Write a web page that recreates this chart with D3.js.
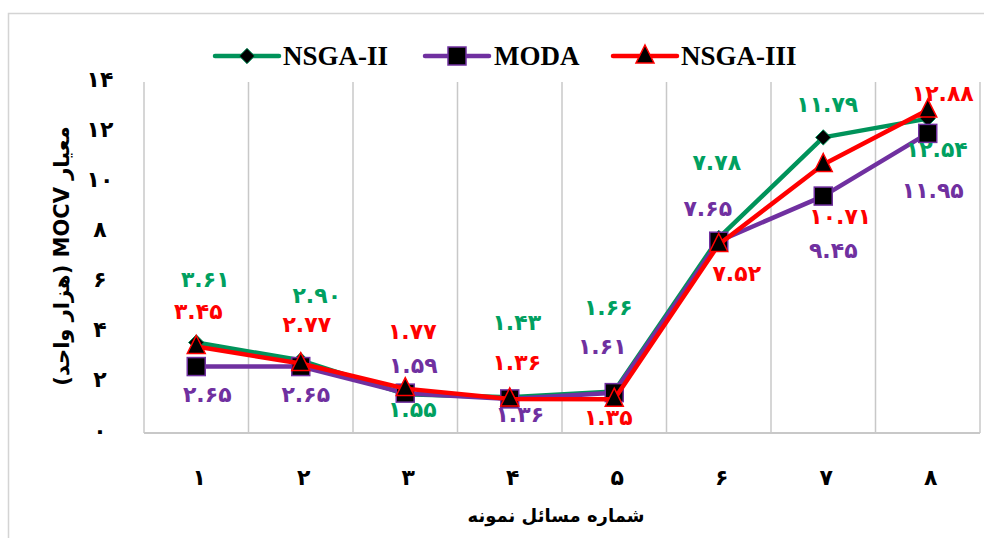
<!DOCTYPE html>
<html>
<head>
<meta charset="utf-8">
<script src="https://cdn.jsdelivr.net/npm/d3@7"></script>
<style>
  body { margin: 0; background: #fff; }
  svg { display: block; }
</style>
</head>
<body>
<svg id="chart" width="984" height="538"></svg>
<script>
// داده‌ها
const categories = [1, 2, 3, 4, 5, 6, 7, 8];
const nsga2 = [3.61, 2.90, 1.55, 1.43, 1.66, 7.78, 11.79, 12.54];
const moda = [2.65, 2.65, 1.59, 1.36, 1.61, 7.65, 9.45, 11.95];
const nsga3 = [3.45, 2.77, 1.77, 1.36, 1.35, 7.52, 10.71, 12.88];
const yTicks = [0, 2, 4, 6, 8, 10, 12, 14];
const seriesNames = ['NSGA-II', 'MODA', 'NSGA-III'];
const xTitle = 'شماره مسائل نمونه';
const yTitle = 'معیار MOCV (هزار واحد)';

// جای برچسب‌ها نسبت به نقطه (فقط چیدمان)
const labelOffsets = {
  'NSGA-II': [[9, -63], [16, -65], [7, 15], [7, -75], [-6, -84], [-2, -75], [4, -33], [9, 31]],
  'MODA': [[11, 28], [5, 28], [8, -28], [10, 16], [-12, -46], [-11, -33], [10, 54], [5, 57]],
  'NSGA-III': [[2, -35], [6, -39], [7, -57], [7, -36], [-6, 18], [18, 29], [17, 52], [15, -17]]
};

const series = [
  { name: 'NSGA-II', values: nsga2, line: '#00935a', text: '#00a060', marker: 'diamond' },
  { name: 'MODA', values: moda, line: '#7030a0', text: '#7030a0', marker: 'square' },
  { name: 'NSGA-III', values: nsga3, line: '#ff0000', text: '#ff0000', marker: 'triangle' }
];

const toFa = s => String(s).replace(/[0-9]/g, d => String.fromCharCode(0x06F0 + +d));
const fmt = d3.format('.2f');

const svg = d3.select('#chart');
const plotLeft = 144, plotRight = 980, plotTop = 82, plotBottom = 433;

const x = d3.scaleBand().domain(categories).range([plotLeft, plotRight]);
const y = d3.scaleLinear().domain([0, 14]).range([plotBottom, plotTop]);
const cx = c => x(c) + x.bandwidth() / 2;

// قاب بیرونی
svg.append('rect')
  .attr('x', 8.5).attr('y', 13.5)
  .attr('width', 1000).attr('height', 600)
  .attr('fill', 'none').attr('stroke', '#d4d4d4').attr('stroke-width', 1.5);

// خطوط شبکه عمودی
const bounds = categories.map(c => x(c)).concat([plotRight]);
svg.append('g').selectAll('line')
  .data(bounds)
  .enter().append('line')
  .attr('x1', d => d).attr('x2', d => d)
  .attr('y1', plotTop).attr('y2', plotBottom)
  .attr('stroke', '#c8c8c8').attr('stroke-width', 1.5);

// محور افقی
svg.append('line')
  .attr('x1', plotLeft).attr('x2', plotRight)
  .attr('y1', plotBottom).attr('y2', plotBottom)
  .attr('stroke', '#c8c8c8').attr('stroke-width', 2);

// برچسب‌های محور عمودی
svg.append('g').selectAll('text')
  .data(yTicks)
  .enter().append('text')
  .attr('x', 100)
  .attr('y', d => y(d) - 3)
  .attr('text-anchor', 'middle')
  .attr('dominant-baseline', 'central')
  .attr('font-family', 'DejaVu Sans')
  .attr('font-weight', 'bold')
  .attr('font-size', 22)
  .text(d => toFa(d));

// برچسب‌های محور افقی
svg.append('g').selectAll('text')
  .data(categories)
  .enter().append('text')
  .attr('x', d => cx(d) + 3)
  .attr('y', 477)
  .attr('text-anchor', 'middle')
  .attr('dominant-baseline', 'central')
  .attr('font-family', 'DejaVu Sans')
  .attr('font-weight', 'bold')
  .attr('font-size', 22)
  .text(d => toFa(d));

// عنوان محورها
svg.append('text')
  .attr('x', 556).attr('y', 515)
  .attr('text-anchor', 'middle')
  .attr('dominant-baseline', 'central')
  .attr('direction', 'rtl')
  .attr('font-family', 'DejaVu Sans')
  .attr('font-weight', 'bold')
  .attr('font-size', 18)
  .text(xTitle);

svg.append('text')
  .attr('transform', 'translate(62,256) rotate(-90)')
  .attr('text-anchor', 'middle')
  .attr('dominant-baseline', 'central')
  .attr('direction', 'rtl')
  .attr('font-family', 'DejaVu Sans')
  .attr('font-weight', 'bold')
  .attr('font-size', 21)
  .text(yTitle);

// نشانگرها
function drawMarker(g, type, px, py, color) {
  if (type === 'diamond') {
    g.append('path')
      .attr('d', d3.symbol(d3.symbolDiamond2, 150)())
      .attr('transform', `translate(${px},${py})`)
      .attr('fill', '#000').attr('stroke', color).attr('stroke-width', 1);
  } else if (type === 'square') {
    g.append('rect')
      .attr('x', px - 9).attr('y', py - 9)
      .attr('width', 18).attr('height', 18)
      .attr('fill', '#000').attr('stroke', color).attr('stroke-width', 1.5);
  } else {
    g.append('path')
      .attr('d', `M${px},${py - 11}L${px + 9},${py + 7}L${px - 9},${py + 7}Z`)
      .attr('fill', '#000').attr('stroke', color).attr('stroke-width', 1.5);
  }
}

const line = d3.line()
  .x((d, i) => cx(categories[i]))
  .y(d => y(d));

series.forEach(s => {
  const g = svg.append('g');
  g.append('path')
    .datum(s.values)
    .attr('d', line)
    .attr('fill', 'none')
    .attr('stroke', s.line)
    .attr('stroke-width', 4.5)
    .attr('stroke-linejoin', 'round');
  s.values.forEach((v, i) => {
    drawMarker(g, s.marker, cx(categories[i]), y(v), s.line);
  });
});

// برچسب داده‌ها
series.forEach(s => {
  svg.append('g').selectAll('text')
    .data(s.values)
    .enter().append('text')
    .attr('x', (d, i) => cx(categories[i]) + labelOffsets[s.name][i][0])
    .attr('y', (d, i) => y(d) + labelOffsets[s.name][i][1])
    .attr('text-anchor', 'middle')
    .attr('dominant-baseline', 'central')
    .attr('font-family', 'DejaVu Sans')
    .attr('font-weight', 'bold')
    .attr('font-size', 22)
    .attr('fill', s.text)
    .text(d => toFa(fmt(d)));
});

// راهنما
const legendItems = [
  { x: 215, textX: 283 },
  { x: 425, textX: 494 },
  { x: 613, textX: 681 }
];
const legend = svg.append('g');
series.forEach((s, i) => {
  const lx = legendItems[i].x, ly = 56;
  legend.append('line')
    .attr('x1', lx).attr('x2', lx + 64)
    .attr('y1', ly).attr('y2', ly)
    .attr('stroke', s.line).attr('stroke-width', 4.5)
    .attr('stroke-linecap', 'round');
  drawMarker(legend, s.marker, lx + 32, ly, s.line);
  legend.append('text')
    .attr('x', legendItems[i].textX).attr('y', ly)
    .attr('dominant-baseline', 'central')
    .attr('font-family', 'Liberation Serif')
    .attr('font-weight', 'bold')
    .attr('font-size', 27)
    .text(seriesNames[i]);
});
</script>
</body>
</html>
